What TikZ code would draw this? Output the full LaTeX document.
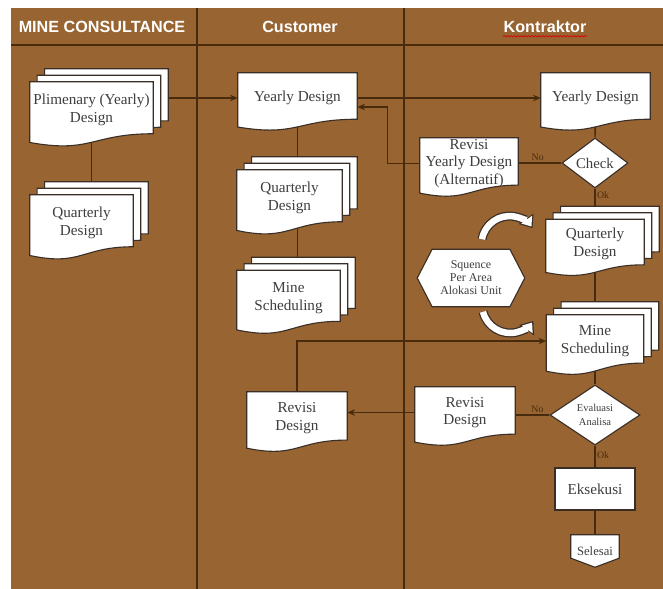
\documentclass[tikz,border=0pt]{standalone}
\usepackage{fontspec}
\setmainfont{Liberation Serif}
\newfontfamily\headfont{Liberation Sans}
\usetikzlibrary{arrows.meta,calc,shapes.geometric,decorations.pathmorphing}
\definecolor{cokelat}{RGB}{152,101,50}
\definecolor{garis}{RGB}{72,42,12}
\definecolor{tepi}{RGB}{58,46,38}
\definecolor{teks}{RGB}{62,62,62}
\pgfdeclarelayer{back}
\pgfdeclarelayer{paper}
\pgfsetlayers{back,paper,main}
\tikzset{
	boxsize/.style 2 args={minimum width=#1*0.025cm,minimum height=#2*0.025cm},
	sheet/.style={fill=white,draw=tepi,line width=0.8pt},
	doc/.style={inner sep=0pt,align=center,text=teks,font=\fontsize{10.8}{12.5}\selectfont},
	keputusan/.style={diamond,draw=tepi,fill=white,line width=0.8pt,inner sep=0pt,align=center,text=teks},
	flow/.style={draw=garis,line width=1pt},
	lbl/.style={text=garis,inner sep=1pt,font=\fontsize{7}{8}\selectfont},
	head/.style={text=white,font=\headfont\bfseries\fontsize{11.5}{13}\selectfont},
	pita/.style={draw=tepi,line width=6.4pt,-{Triangle[length=8pt,width=13pt,line width=0pt]}},
	isi/.style={draw=white,line width=4.6pt,shorten >=1.3pt,-{Triangle[length=6pt,width=9.5pt,line width=0pt]}},
}
% lembar dokumen (bawah bergelombang), #1 = jumlah lembar di belakang
\newcommand\docsheet[2][0]{%
	\begin{pgfonlayer}{paper}
		\foreach \k in {#1,...,0}
		\draw[sheet] let \p1=(#2.north west), \p2=(#2.south east), \n1={\k*5.3pt}, \n2={\k*4.6pt}, \n3={\y1-\y2} in
		(\x1+\n1,\y1+\n2) -- (\x2+\n1,\y1+\n2) -- (\x2+\n1,\y1+\n2-0.92*\n3)
		.. controls ({0.5*(\x1+\x2)+\n1},{\y1+\n2-0.92*\n3}) and ({0.5*(\x1+\x2)+\n1},{\y1+\n2-1.272*\n3}) .. (\x1+\n1,\y1+\n2-1.074*\n3) -- cycle;
	\end{pgfonlayer}%
}
\begin{document}
\begin{tikzpicture}[x=0.025cm,y=-0.025cm,>={Stealth[length=5.5pt,width=4.6pt]}]
	\useasboundingbox (0,0) rectangle (663,589);
	% kepala kolom
	\node[head] (hmine) at (102,27) {MINE CONSULTANCE};
	\node[head] (hcust) at (300,27) {Customer};
	\node[head] (hkon) at (545,27) {Kontraktor};
	\draw[red!85!black,line width=0.5pt,decorate,decoration={snake,amplitude=0.5pt,segment length=2.5pt}] ([xshift=3pt,yshift=-2.5pt]hkon.base west) -- ([xshift=-3pt,yshift=-2.5pt]hkon.base east);
	% Mine Consultance
	\node[doc,boxsize={123}{56}] (plen) at (91.5,110) {Plimenary (Yearly)\\Design};
	\node[doc,boxsize={103}{56}] (lqd) at (81.5,223) {Quarterly\\Design};
	% Customer
	\node[doc,boxsize={119}{50}] (cyd) at (297.5,98) {Yearly Design};
	\node[doc,boxsize={105}{56}] (cqd) at (289.5,198) {Quarterly\\Design};
	\node[doc,boxsize={103}{55}] (cms) at (288.5,298) {Mine\\Scheduling};
	\node[doc,boxsize={100}{52}] (crd) at (297,418) {Revisi\\Design};
	% Kontraktor
	\node[doc,boxsize={109}{50}] (kyd) at (595.5,98) {Yearly Design};
	\node[keputusan,boxsize={66}{50},font=\fontsize{10.5}{12}\selectfont] (check) at (595,163) {Check};
	\node[doc,boxsize={98}{51}] (ryd) at (469,163.5) {Revisi\\Yearly Design\\(Alternatif)};
	\node[doc,boxsize={98}{49}] (kqd) at (595,244) {Quarterly\\Design};
	\node[doc,boxsize={107}{57},font=\fontsize{8.5}{9.2}\selectfont] (seq) at (471,278) {Squence\\Per Area\\Alokasi Unit};
	\node[doc,boxsize={97}{52}] (kms) at (595,341) {Mine\\Scheduling};
	\node[keputusan,boxsize={90}{60},font=\fontsize{7.5}{10}\selectfont] (eval) at (595,415) {Evaluasi\\Analisa};
	\node[doc,boxsize={100}{51}] (krd) at (465,412.5) {Revisi\\Design};
	\node[doc,boxsize={80}{42},draw=tepi,fill=white,line width=0.8pt] (eks) at (595,489) {Eksekusi};
	\node[doc,boxsize={48}{32},font=\fontsize{9}{10}\selectfont] (sel) at (595,551) {Selesai};
	% lembar kertas
	\docsheet[2]{plen} \docsheet[2]{lqd}
	\docsheet{cyd} \docsheet[2]{cqd} \docsheet[2]{cms} \docsheet{crd}
	\docsheet{kyd} \docsheet{ryd} \docsheet[2]{kqd} \docsheet[2]{kms} \docsheet{krd}
	\begin{pgfonlayer}{paper}
		\draw[sheet] (seq.west) -- ([xshift=10.6pt]seq.north west) -- ([xshift=-10.6pt]seq.north east) -- (seq.east) -- ([xshift=-10.6pt]seq.south east) -- ([xshift=10.6pt]seq.south west) -- cycle;
		\draw[sheet] (sel.north west) -- (sel.north east) -- ($(sel.north east)!0.72!(sel.south east)$) -- (sel.south) -- ($(sel.north west)!0.72!(sel.south west)$) -- cycle;
	\end{pgfonlayer}
	% latar, kolom dan alur
	\begin{pgfonlayer}{back}
		\fill[cokelat] (11,8) rectangle (663,589);
		\draw[garis,line width=1.6pt] (11,45) -- (663,45);
		\draw[garis,line width=2pt] (197,8) -- (197,589) (404,8) -- (404,589);
		\draw[flow,->] (plen.east |- cyd.west) -- (cyd.west);
		\draw[flow] (plen.center) -- (plen.center |- lqd.north);
		\draw[flow] (cyd.center) -- (cyd.center |- cqd.north);
		\draw[flow] (cyd.center |- cqd.center) -- (cyd.center |- cms.north);
		\draw[flow,->] (cyd.east) -- (kyd.west);
		\draw[flow] (kyd.center) -- (check.north);
		\draw[flow] (check.west) -- node[lbl,above,pos=0.55]{No} (check.west -| ryd.east);
		\draw[flow,->] (ryd.west) -- ++(-32,0) |- ([yshift=-6.4pt]cyd.east);
		\draw[flow] (check.south) -- node[lbl,right,pos=0.2]{Ok} (kqd.north);
		\draw[flow] (kqd.center) -- (kms.north);
		\draw[flow] (kms.center) -- (eval.north);
		\draw[flow] (eval.west) -- node[lbl,above,pos=0.35]{No} (eval.west -| krd.east);
		\draw[flow,->] (krd.west) -- (krd.west -| crd.east);
		\draw[flow,->] (crd.north) |- (kms.west);
		\draw[flow] (eval.south) -- node[lbl,right,pos=0.45]{Ok} (eks.north);
		\draw[flow] (eks.south) -- (sel.north);
	\end{pgfonlayer}
	% panah lengkung dari sequence
	\foreach \s in {pita,isi} {
		\draw[\s] ([shift={(11,-10)}]seq.north) arc[start angle=190,end angle=325,radius=28];
		\draw[\s] ([shift={(12,5)}]seq.south) arc[start angle=166,end angle=35,radius=28];
	}
\end{tikzpicture}
\end{document}
